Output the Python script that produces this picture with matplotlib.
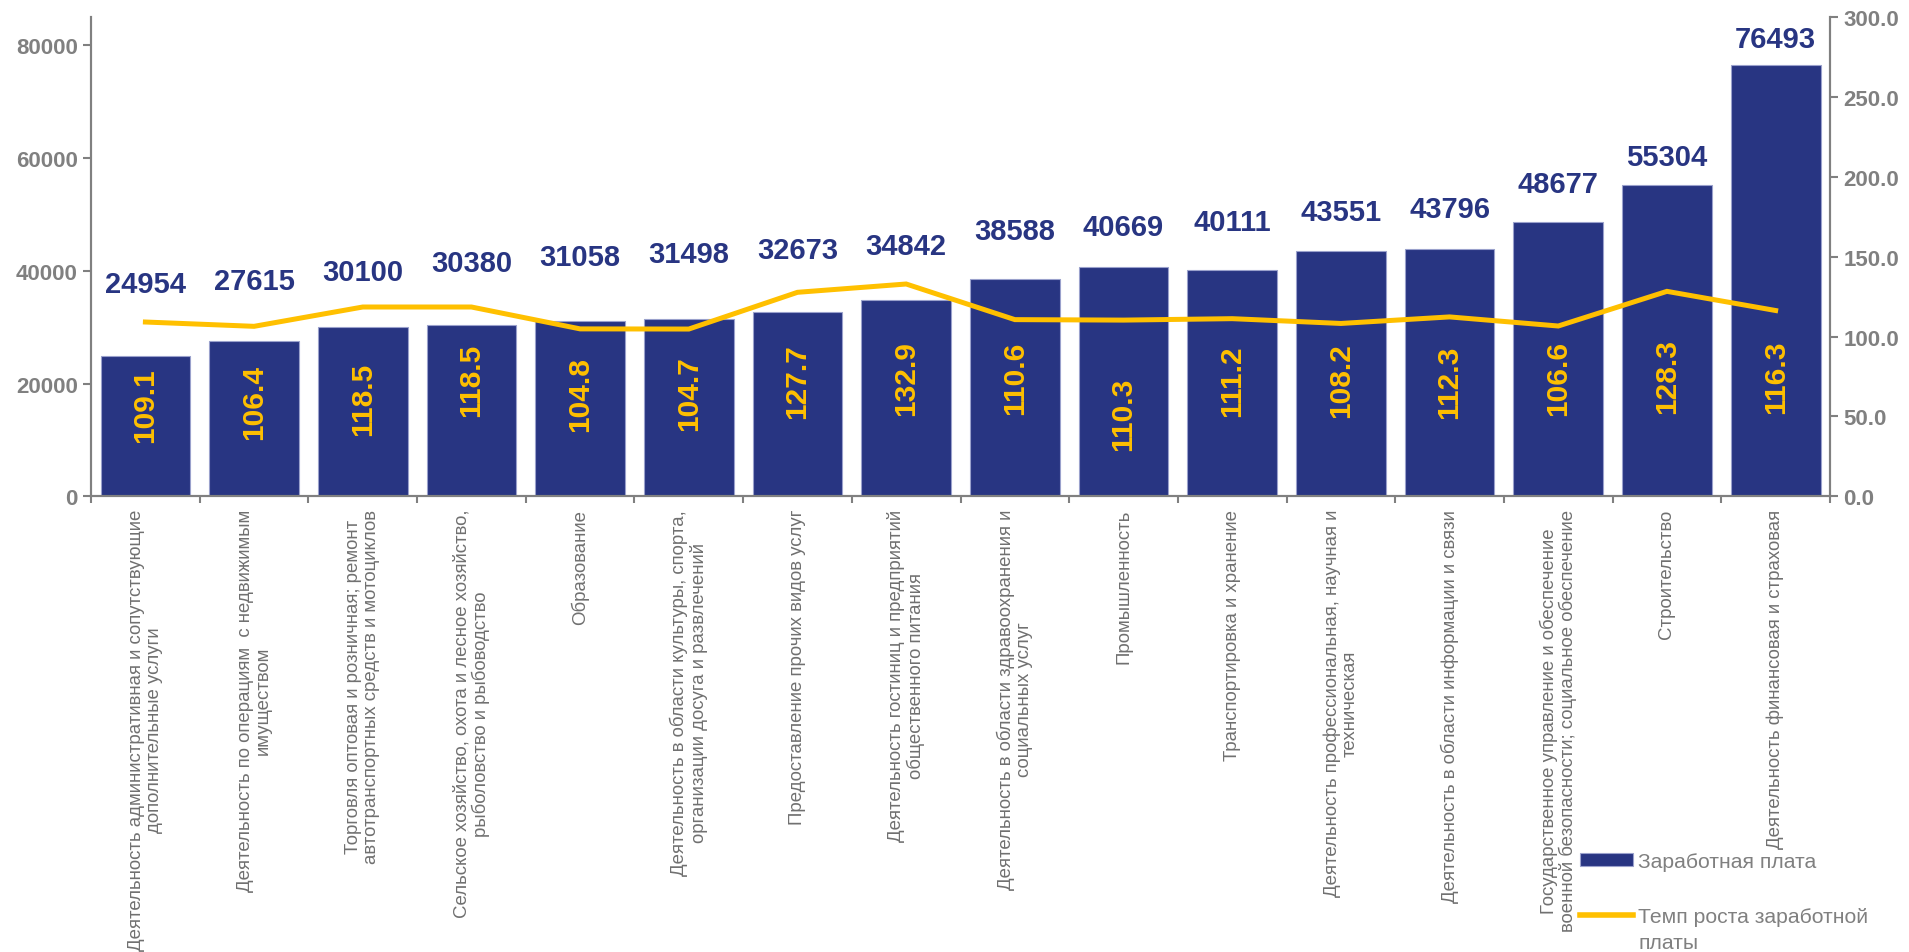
import numpy as np
import matplotlib
matplotlib.use("Agg")
import matplotlib.pyplot as plt
from matplotlib.patches import Patch
from matplotlib.lines import Line2D

plt.rcParams['font.family'] = ['Liberation Sans', 'DejaVu Sans']

# %% Data

categories = [
    "Деятельность административная и сопутствующие\nдополнительные услуги",
    "Деятельность по операциям  с недвижимым\nимуществом",
    "Торговля оптовая и розничная; ремонт\nавтотранспортных средств и мотоциклов",
    "Сельское хозяйство, охота и лесное хозяйство,\nрыболовство и рыбоводство",
    "Образование",
    "Деятельность в области культуры, спорта,\nорганизации досуга и развлечений",
    "Предоставление прочих видов услуг",
    "Деятельность гостиниц и предприятий\nобщественного питания",
    "Деятельность в области здравоохранения и\nсоциальных услуг",
    "Промышленность",
    "Транспортировка и хранение",
    "Деятельность профессиональная, научная и\nтехническая",
    "Деятельность в области информации и связи",
    "Государственное управление и обеспечение\nвоенной безопасности; социальное обеспечение",
    "Строительство",
    "Деятельность финансовая и страховая",
]

wages = [24954, 27615, 30100, 30380, 31058, 31498, 32673, 34842,
         38588, 40669, 40111, 43551, 43796, 48677, 55304, 76493]

growth = [109.1, 106.4, 118.5, 118.5, 104.8, 104.7, 127.7, 132.9,
          110.6, 110.3, 111.2, 108.2, 112.3, 106.6, 128.3, 116.3]

# label heights as placed in the original chart (left axis units)
wage_label_y = [37700, 38100, 39700, 41300, 42500, 43000, 43600, 44400,
                47100, 47800, 48700, 50500, 51000, 55400, 60200, 81200]
growth_label_y = [16300, 16900, 17400, 20700, 18300, 18400, 20600, 21100,
                  21100, 14700, 20600, 20700, 20400, 21100, 21500, 21300]

# %% Plot

bar_color = "#283582"
line_color = "#FFC000"
gray = "#808080"

fig = plt.figure(figsize=(19.09, 9.53), dpi=100)
ax = fig.add_axes([0.0477, 0.4782, 0.9109, 0.5028])
x = np.arange(len(wages))

ax.bar(x, wages, width=0.826, color=bar_color, edgecolor="#9aa1cc", linewidth=0.8, zorder=2)
ax.set_xlim(-0.5, len(wages) - 0.5)
ax.set_ylim(0, 85000)
ax.set_yticks([0, 20000, 40000, 60000, 80000])

for i in range(len(wages)):
    ax.text(x[i], wage_label_y[i], str(wages[i]), ha="center", va="center",
            fontsize=21, fontweight="bold", color=bar_color)
    ax.text(x[i], growth_label_y[i], "%.1f" % growth[i], ha="center", va="center",
            rotation=90, fontsize=21.5, fontweight="bold", color=line_color, zorder=3)

ax.set_xticks(np.arange(-0.5, len(wages), 1))
ax.set_xticklabels([])
ax.set_xticks(x, minor=True)
ax.set_xticklabels(categories, minor=True, rotation=90, ha="center", va="top",
                   multialignment="center", fontsize=13.4, color="#707070", linespacing=1.08)
ax.tick_params(axis="x", which="minor", length=0, pad=9)
ax.tick_params(axis="x", which="major", length=5, color=gray, width=1.5)
ax.tick_params(axis="y", length=6, color=gray, width=1.5, labelsize=16, labelcolor=gray)
for lbl in ax.get_yticklabels():
    lbl.set_fontweight("bold")

ax2 = ax.twinx()
ax2.plot(x, growth, color=line_color, linewidth=3.6, solid_joinstyle="miter", zorder=4)
ax2.set_ylim(0, 300)
ax2.set_yticks([0, 50, 100, 150, 200, 250, 300])
ax2.set_yticklabels(["%.1f" % v for v in [0, 50, 100, 150, 200, 250, 300]])
ax2.tick_params(axis="y", length=6, color=gray, width=1.5, labelsize=16, labelcolor=gray)
for lbl in ax2.get_yticklabels():
    lbl.set_fontweight("bold")

for a in (ax, ax2):
    a.spines["top"].set_visible(False)
    for s in ("left", "right", "bottom"):
        a.spines[s].set_color(gray)
        a.spines[s].set_linewidth(1.5)

# legend: second label wraps under its text, handle stays level with the first line
handles = [Patch(facecolor=bar_color, edgecolor="#9aa1cc", linewidth=0.8),
           Line2D([0], [0], color=line_color, linewidth=4)]
leg = fig.legend(handles, ["Заработная плата", "Темп роста заработной"],
                 loc="upper left", bbox_to_anchor=(1580 / 1909, 1 - 853 / 953),
                 frameon=False, fontsize=15.2, handlelength=2.5, handleheight=0.6,
                 handletextpad=0.25, labelspacing=1.7, borderpad=0, borderaxespad=0)
for t in leg.get_texts():
    t.set_color(gray)

fig.canvas.draw()
bb = leg.get_texts()[1].get_window_extent()
W, H = fig.get_size_inches() * fig.dpi
fig.text(bb.x0 / W, (bb.y0 - 26) / H, "платы", fontsize=15.2, color=gray, ha="left", va="bottom")

fig.savefig("out.png", dpi=100)
